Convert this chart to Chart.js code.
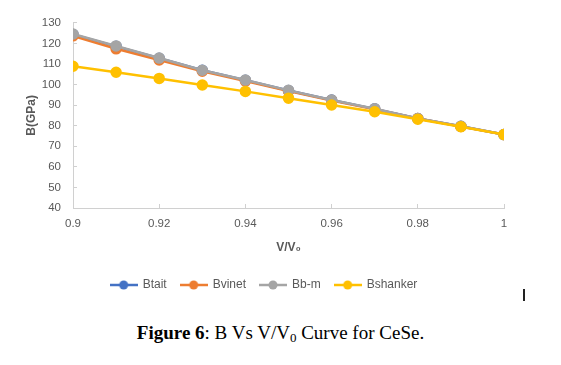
<!DOCTYPE html>
<html>
<head>
<meta charset="utf-8">
<script src="https://cdn.jsdelivr.net/npm/chart.js@4"></script>
<style>
  html, body { margin: 0; padding: 0; background: #fff; }
  body { width: 561px; height: 365px; position: relative; overflow: hidden; }
  #wrap { position: absolute; left: 0; top: 0; width: 561px; height: 305px; }
  #caption {
    position: absolute; left: 0; top: 322px; width: 561px;
    line-height: 22px; text-align: center;
    font-family: "Liberation Serif", "Times New Roman", serif; font-size: 19px; color: #000;
  }
  #caption sub { font-size: 13px; vertical-align: -3px; line-height: 0; }
  #cursor { position: absolute; left: 523px; top: 289px; width: 2px; height: 12px; background: #222; }
</style>
</head>
<body>
<div id="wrap"><canvas id="chart"></canvas></div>
<div id="caption"><b>Figure 6</b>: B Vs V/V<sub>0</sub> Curve for CeSe.</div>
<div id="cursor"></div>
<script>
// V/V0 values (x axis)
const volRatio = [0.9, 0.91, 0.92, 0.93, 0.94, 0.95, 0.96, 0.97, 0.98, 0.99, 1];

// bulk modulus B (GPa) for each equation of state
const bTait    = [124.4, 118.6, 112.8, 107.0, 102.1, 97.1, 92.5, 88.2, 83.5, 79.7, 75.7];
const bVinet   = [123.7, 117.4, 112.0, 106.5, 101.7, 96.9, 92.3, 88.0, 83.5, 79.6, 75.7];
const bBm      = [124.6, 118.8, 112.9, 107.0, 102.2, 97.2, 92.5, 88.3, 83.5, 79.7, 75.7];
const bShanker = [108.9, 106.0, 103.0, 99.8, 96.7, 93.4, 90.1, 86.8, 83.2, 79.5, 75.7];

const seriesNames = ["Btait", "Bvinet", "Bb-m", "Bshanker"];
const seriesColors = ["#4472C4", "#ED7D31", "#A5A5A5", "#FFC000"];

const FONT = "'Liberation Sans', 'DejaVu Sans', Arial, sans-serif";
const GREY = "#595959";
const AXIS = "#D0D0D0";

// legend marker: short line with a dot in the middle
function legendIcon(color) {
  const c = document.createElement("canvas");
  c.width = 28;
  c.height = 10;
  const g = c.getContext("2d");
  g.strokeStyle = color;
  g.lineWidth = 2.5;
  g.beginPath();
  g.moveTo(0, 5);
  g.lineTo(28, 5);
  g.stroke();
  g.fillStyle = color;
  g.beginPath();
  g.arc(14, 5, 4.5, 0, Math.PI * 2);
  g.fill();
  return c;
}
const icons = seriesColors.map(legendIcon);

function points(values) {
  return volRatio.map((v, i) => ({ x: v, y: values[i] }));
}

const allSeries = [bTait, bVinet, bBm, bShanker];

const datasets = allSeries.map((vals, i) => ({
  label: seriesNames[i],
  data: points(vals),
  borderColor: seriesColors[i],
  backgroundColor: seriesColors[i],
  pointBackgroundColor: seriesColors[i],
  pointBorderColor: seriesColors[i],
  borderWidth: 2.5,
  pointRadius: 4.5,
  pointHoverRadius: 4.5,
  tension: 0,
  // later series drawn on top, like the original
  order: allSeries.length - i,
}));

Chart.defaults.font.family = FONT;
Chart.defaults.color = GREY;

const defaultLabels = Chart.defaults.plugins.legend.labels.generateLabels;

new Chart(document.getElementById("chart"), {
  type: "line",
  data: { datasets: datasets },
  options: {
    responsive: true,
    maintainAspectRatio: false,
    animation: false,
    layout: {
      padding: { left: 24, right: 57, top: 8, bottom: 4 },
    },
    plugins: {
      tooltip: { enabled: false },
      legend: {
        display: true,
        position: "bottom",
        labels: {
          usePointStyle: true,
          pointStyleWidth: 26,
          boxHeight: 10,
          padding: 14,
          color: GREY,
          font: { size: 12, family: FONT },
          sort: (a, b) => a.datasetIndex - b.datasetIndex,
          generateLabels: (chart) => {
            const items = defaultLabels(chart);
            items.forEach((it) => {
              it.pointStyle = icons[it.datasetIndex];
            });
            return items;
          },
        },
      },
    },
    scales: {
      x: {
        type: "linear",
        min: 0.9,
        max: 1,
        afterFit: (scale) => { scale.height = 57; },
        grid: {
          display: true,
          drawOnChartArea: false,
          drawTicks: true,
          tickLength: -4,
          color: AXIS,
        },
        border: { display: true, color: AXIS, width: 1 },
        ticks: {
          stepSize: 0.02,
          padding: 13,
          color: GREY,
          font: { size: 11.5, family: FONT },
          callback: (v) => String(Math.round(v * 100) / 100),
        },
        title: {
          display: true,
          text: "V/V\u2080",
          color: GREY,
          font: { size: 12, weight: "bold", family: FONT },
          padding: { top: 0, bottom: 10 },
        },
      },
      y: {
        min: 40,
        max: 130,
        afterFit: (scale) => { scale.width = 49; },
        grid: {
          display: true,
          drawOnChartArea: false,
          drawTicks: true,
          tickLength: -4,
          color: AXIS,
        },
        border: { display: true, color: AXIS, width: 1 },
        ticks: {
          stepSize: 10,
          padding: 16,
          color: GREY,
          font: { size: 11.5, family: FONT },
        },
        title: {
          display: true,
          text: "B(GPa)",
          color: GREY,
          font: { size: 12, weight: "bold", family: FONT },
          padding: { top: 0, bottom: 0 },
        },
      },
    },
  },
});
</script>
</body>
</html>
